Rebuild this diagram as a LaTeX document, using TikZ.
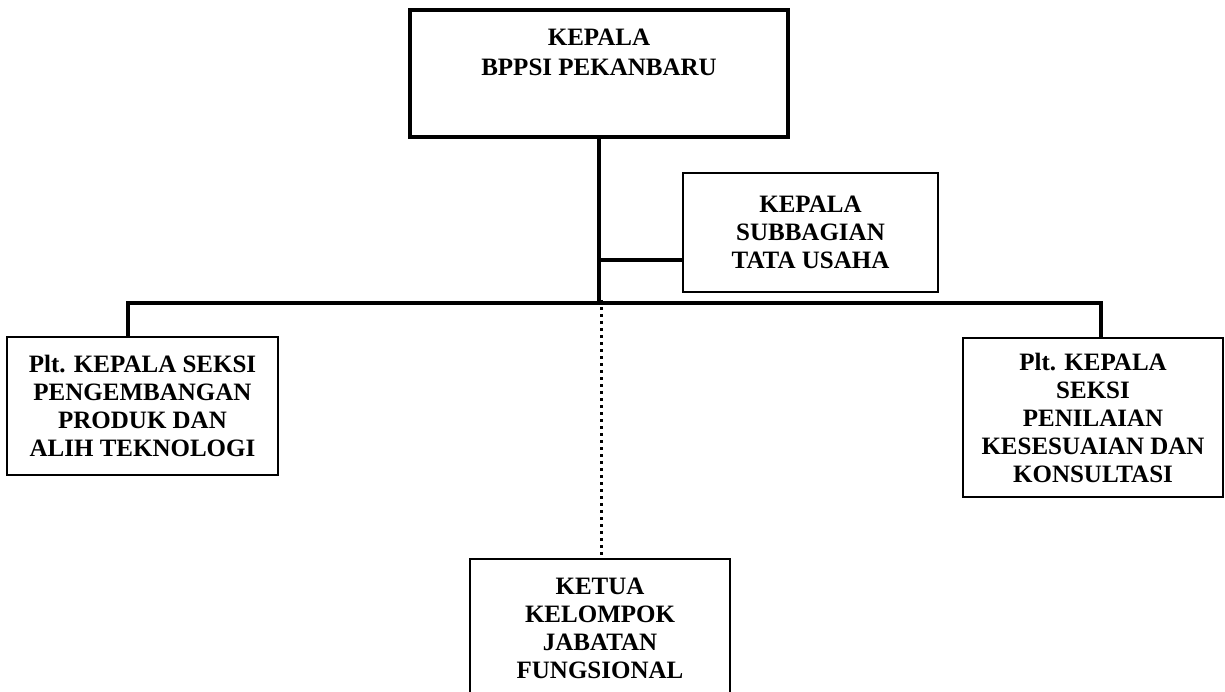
\documentclass[tikz,border=0pt]{standalone}
\usepackage{fontspec}
\setmainfont{Liberation Serif}
\begin{document}
\begin{tikzpicture}[x=1pt,y=-1pt,
  box/.style={draw, line width=1.5pt, inner sep=0pt, align=center,
    font=\fontsize{25}{28}\selectfont\bfseries},
  txt/.style={inner sep=0pt, align=center, font=\fontsize{25}{30}\selectfont\bfseries},
  conn/.style={line width=3.5pt},
  dotconn/.style={line width=3pt, dash pattern=on 3pt off 4pt}]
\useasboundingbox (0,0) rectangle (1225,692);
% boxes
\node[box, line width=4pt, minimum width=378, minimum height=127] (kepala) at (599,73.5) {};
\node[txt] (kepalatxt) at (599,52) {KEPALA\\BPPSI PEKANBARU};
\node[box, minimum width=255, minimum height=119] (subbag) at (810.5,232.5) {KEPALA\\SUBBAGIAN\\TATA USAHA};
\node[box, minimum width=271, minimum height=138] (seksi1) at (142.5,406) {Plt. KEPALA SEKSI\\PENGEMBANGAN\\PRODUK DAN\\ALIH TEKNOLOGI};
\node[box, minimum width=260, minimum height=159] (seksi2) at (1093,417.5) {Plt. KEPALA\\SEKSI\\PENILAIAN\\KESESUAIAN DAN\\KONSULTASI};
\node[box, minimum width=260, minimum height=139] (ketua) at (600,628.5) {KETUA\\KELOMPOK\\JABATAN\\FUNGSIONAL};
% junctions
\coordinate (hub) at (599,303);
\coordinate (tu) at (599,260);
\coordinate (lc) at (128,303);
\coordinate (rc) at (1101,303);
\coordinate (hubd) at (601,303);
% connectors
\draw[conn] (kepala.south) -- (hub);
\draw[conn] (tu) -- (tu -| subbag.west);
\draw[conn, line cap=rect] (lc) -- (rc);
\draw[conn] (lc) -- (lc |- seksi1.north);
\draw[conn] (rc) -- (rc |- seksi2.north);
\draw[dotconn] ([yshift=3pt]hubd) -- (hubd |- ketua.north);
\end{tikzpicture}
\end{document}
